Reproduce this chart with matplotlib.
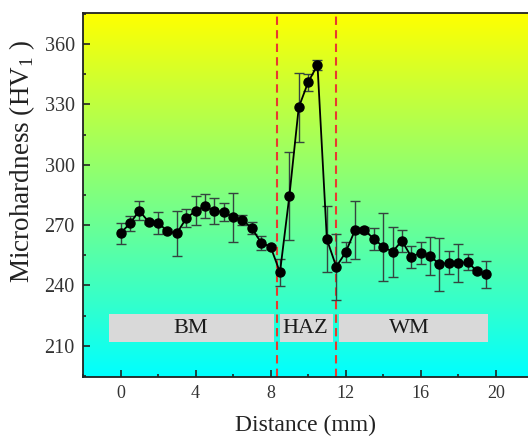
import numpy as np
import matplotlib
matplotlib.use("Agg")
import matplotlib.pyplot as plt
from matplotlib.ticker import MultipleLocator

# ---- data ----
distance = [0.0, 0.5, 1.0, 1.5, 2.0, 2.5, 3.0, 3.5, 4.0, 4.5,
            5.0, 5.5, 6.0, 6.5, 7.0, 7.5, 8.0, 8.5, 9.0, 9.5,
            10.0, 10.5, 11.0, 11.5, 12.0, 12.5, 13.0, 13.5, 14.0, 14.5,
            15.0, 15.5, 16.0, 16.5, 17.0, 17.5, 18.0, 18.5, 19.0, 19.5]
hardness = [265.9, 270.8, 277.1, 271.6, 271.1, 267.0, 265.9, 273.3, 277.1, 279.4,
            277.0, 276.6, 273.8, 272.5, 268.4, 261.2, 259.2, 246.5, 284.4, 328.5,
            341.0, 349.6, 262.9, 249.3, 256.4, 267.5, 267.5, 263.2, 259.2, 256.7,
            262.2, 254.2, 256.2, 254.7, 250.5, 251.3, 251.0, 251.6, 247.1, 245.5]
hardness_err = [5.3, 3.7, 4.8, 1.0, 5.4, 1.0, 11.3, 4.5, 7.2, 5.8,
                6.3, 4.4, 12.3, 2.7, 2.9, 3.5, 1.0, 6.7, 22.0, 17.2,
                4.1, 2.5, 16.4, 16.4, 5.0, 14.5, 1.5, 5.5, 17.0, 12.3,
                5.4, 5.5, 5.6, 9.5, 13.2, 5.6, 9.5, 4.1, 1.0, 6.6]

boundaries = [8.34, 11.47]
zone_labels = ["BM", "HAZ", "WM"]
zone_start = [-0.62, 8.5, 11.66]
zone_end = [8.18, 11.34, 19.6]
zone_label_x = [3.76, 9.83, 15.38]
zone_band = [212.0, 225.6]

xticks = [0, 4, 8, 12, 16, 20]
yticks = [210, 240, 270, 300, 330, 360]

# ---- style ----
plt.rcParams['font.family'] = ['Liberation Serif', 'DejaVu Serif']
plt.rcParams['mathtext.fontset'] = 'custom'
plt.rcParams['mathtext.rm'] = 'Liberation Serif'

fig = plt.figure(figsize=(5.28, 4.36), dpi=100)
ax = fig.add_axes([0.1572, 0.136, 0.8527, 0.834])

xlim = (-2.0, 22.0)
ylim = (194.6, 375.4)

# gradient background (cyan bottom -> yellow top)
n = 256
t = np.linspace(0, 1, n)[:, None]
bottom_c = np.array([0.0, 1.0, 1.0])
top_c = np.array([1.0, 1.0, 0.0])
grad = bottom_c[None, None, :] * (1 - t[..., None]) + top_c[None, None, :] * t[..., None]
grad = np.repeat(grad, 2, axis=1)
ax.imshow(grad, extent=[xlim[0], xlim[1], ylim[0], ylim[1]], origin='lower',
          aspect='auto', zorder=0, interpolation='bilinear')

# zone bands
for s, e, lab, lx in zip(zone_start, zone_end, zone_labels, zone_label_x):
    ax.fill_between([s, e], zone_band[0], zone_band[1], color='#d9d9d9',
                    linewidth=0, zorder=1)
    ax.text(lx, (zone_band[0] + zone_band[1]) / 2, lab, ha='center', va='center',
            fontsize=16, color='#1a1a1a', zorder=2)

# boundaries
for b in boundaries:
    ax.axvline(b, color='#e83a2f', linestyle=(0, (4, 2.5)), linewidth=1.5, zorder=2)

# data
ax.errorbar(distance, hardness, yerr=hardness_err, fmt='none', ecolor='#34443f',
            elinewidth=1.0, capsize=3.5, capthick=1.0, zorder=3)
ax.plot(distance, hardness, color='black', linewidth=1.3, marker='o',
        markersize=6.5, markerfacecolor='black', markeredgecolor='black', zorder=4)

ax.set_xlim(*xlim)
ax.set_ylim(*ylim)
ax.set_xticks(xticks)
ax.set_yticks(yticks)
ax.xaxis.set_minor_locator(MultipleLocator(2))
ax.yaxis.set_minor_locator(MultipleLocator(15))
ax.tick_params(which='both', direction='in', colors='#222222', width=1.2)
ax.tick_params(which='major', length=5, pad=6)
ax.tick_params(which='minor', length=2.5)
ax.tick_params(axis='x', labelsize=13, labelcolor='#333333')
ax.tick_params(axis='y', labelsize=14.5, labelcolor='#333333')
for sp in ax.spines.values():
    sp.set_linewidth(1.3)
    sp.set_color('#222222')

ax.set_xlabel('Distance (mm)', fontsize=17, color='#222222')
ax.set_ylabel(r'Microhardness (HV$_\mathregular{1}$ )', fontsize=19.5, color='#222222')
ax.xaxis.set_label_coords(0.495, -0.105)
ax.yaxis.set_label_coords(-0.103, 0.593)

fig.savefig('out.png', dpi=100, facecolor='white')
